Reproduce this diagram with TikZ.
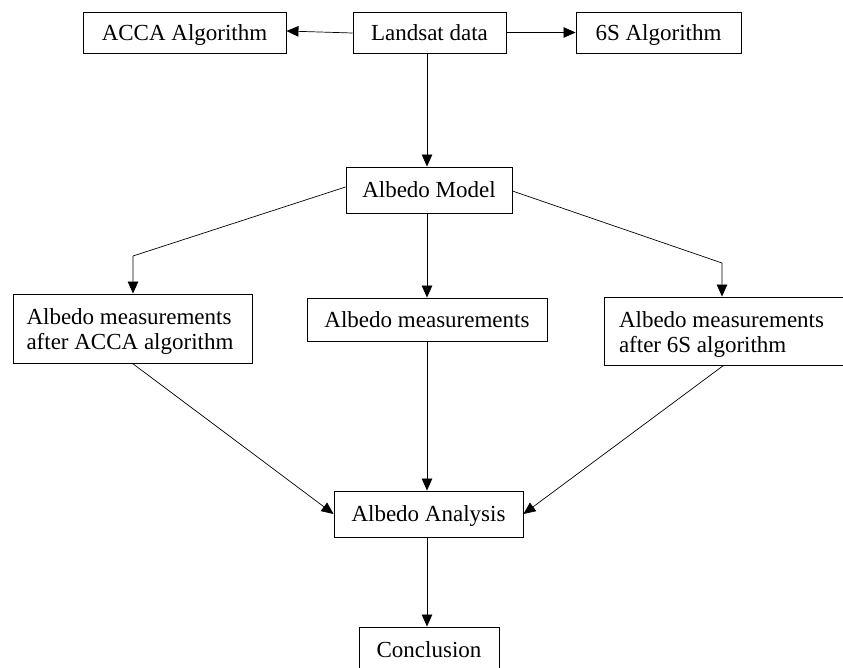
\documentclass[tikz,border=0pt]{standalone}
\usepackage{fontspec}
\setmainfont{Liberation Serif}
\usetikzlibrary{arrows.meta}
\begin{document}
\begin{tikzpicture}[x=1pt,y=-1pt,
  box/.style={draw, line width=0.9pt, inner sep=0pt, align=center,
    font=\fontsize{23}{25}\selectfont},
  onebox/.style={box, text height=15.5pt, text depth=0pt},
  twobox/.style={box, text width=212pt, inner xsep=13.5pt, align=flush left,
    minimum height=#1},
  conn/.style={line width=0.7pt, -{Triangle[length=12pt,width=10.5pt]}}]
\useasboundingbox (0,0) rectangle (843,668);
\node[onebox, minimum width=203pt, minimum height=41pt] (acca) at (184.5,32.5) {ACCA Algorithm};
\node[onebox, minimum width=153pt, minimum height=41pt] (landsat) at (429.5,32.5) {Landsat data};
\node[onebox, minimum width=165pt, minimum height=41pt] (six) at (658.5,32.5) {6S Algorithm};
\node[onebox, minimum width=166pt, minimum height=46pt] (model) at (429,190) {Albedo Model};
\node[twobox=69pt] (left) at (132.5,328.5) {\rule{0pt}{22pt}Albedo measurements\\after ACCA algorithm};
\node[onebox, minimum width=240pt, minimum height=43pt] (mid) at (427,319.5) {Albedo measurements};
\node[twobox=68pt, inner xsep=15pt, text width=209pt] (right) at (723.5,331) {\rule{0pt}{22pt}Albedo measurements\\after 6S algorithm};
\node[onebox, minimum width=189pt, minimum height=46pt] (analysis) at (428.5,514) {Albedo Analysis};
\node[onebox, minimum width=140pt, minimum height=46pt] (concl) at (429,650) {Conclusion};
\coordinate (kl) at (133,256);
\coordinate (kr) at (722,263);
\draw[conn] ([yshift=-0.5pt]landsat.west) -- ([yshift=1.5pt]acca.east);
\draw[conn] (landsat.east) -- (six.west);
\draw[conn] (landsat.south -| mid.center) -- (model.north -| mid.center);
\draw[conn] ([yshift=3pt]model.west) -- (kl) -- (left.north -| kl);
\draw[conn] ([yshift=-1pt]model.east) -- (kr) -- (right.north -| kr);
\draw[conn] (model.south -| mid.center) -- (mid.north);
\draw[conn] (left.south) -- (analysis.west);
\draw[conn] (mid.south) -- (analysis.north -| mid.center);
\draw[conn] (right.south) -- (analysis.east);
\draw[conn] (analysis.south -| mid.center) -- (concl.north -| mid.center);
\end{tikzpicture}
\end{document}
